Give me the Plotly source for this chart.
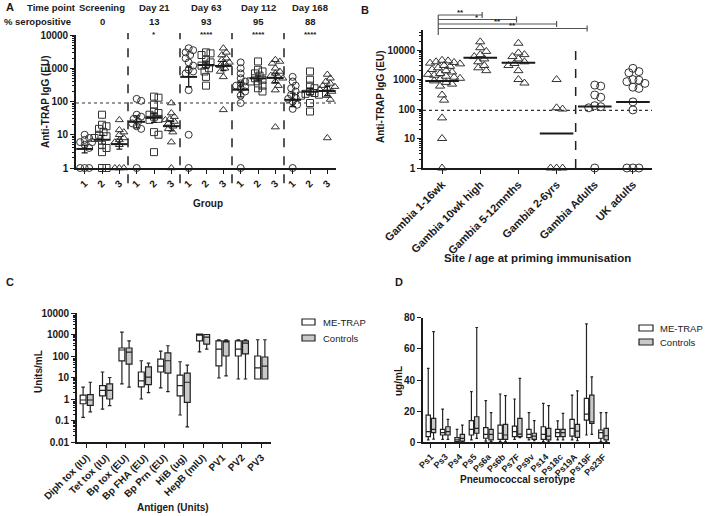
import numpy as np
import plotly.graph_objects as go

W, H = 708, 516

# ---------------- Panel A data ----------------
timepoints = ["Screening", "Day 21", "Day 63", "Day 112", "Day 168"]
pct_seropositive = ["0", "13", "93", "95", "88"]
sig_a = ["", "*", "****", "****", "****"]
groups_a = ["1", "2", "3"]
a_group1 = [
    [10, 8, 7, 6, 6, 5, 5, 4, 1, 1, 1],
    [120, 105, 40, 35, 30, 25, 22, 18, 15, 1],
    [4000, 3500, 3000, 2500, 2000, 1500, 1200, 900, 800, 700, 220, 10, 1],
    [1500, 1000, 700, 500, 400, 350, 300, 280, 250, 200, 150, 90, 1],
    [550, 400, 300, 250, 200, 160, 130, 120, 100, 80, 60, 1],
]
a_group2 = [
    [40, 20, 18, 15, 12, 10, 9, 8, 5, 4, 3, 1, 1],
    [140, 130, 80, 50, 45, 40, 35, 30, 28, 12, 10, 3],
    [3000, 2800, 2500, 1800, 1500, 1300, 1200, 1000, 800, 550, 300],
    [1600, 900, 800, 700, 600, 500, 450, 400, 350, 300, 250, 200],
    [800, 450, 300, 250, 200, 180, 170, 160, 150, 90, 50],
]
a_group3 = [
    [28, 14, 12, 10, 8, 7, 6, 5, 1, 1, 1],
    [90, 45, 35, 30, 28, 25, 22, 18, 15, 12, 6, 1],
    [4000, 3000, 2500, 2000, 1800, 1500, 1400, 1200, 1000, 800, 550, 56],
    [1800, 1600, 1400, 1000, 800, 700, 600, 550, 500, 400, 300, 220, 17],
    [650, 500, 400, 350, 300, 280, 250, 230, 200, 150, 115, 8],
]
cutoff = 90

# ---------------- Panel B data ----------------
b_categories = ["Gambia 1-16wk", "Gambia 10wk high", "Gambia 5-12mnths",
                "Gambia 2-6yrs", "Gambia Adults", "UK adults"]
b_values = [
    [4500, 4300, 4000, 3800, 3600, 3400, 3000, 2800, 2500, 2200, 2000, 1800, 1600, 1500,
     1400, 1300, 1200, 1100, 1000, 900, 800, 700, 600, 300, 200, 50, 10, 1],
    [19000, 12000, 9000, 7000, 6000, 5000, 4000, 3000, 2500, 2000],
    [17000, 8000, 7000, 6000, 5000, 4000, 3500, 3000, 2000, 1000, 760],
    [1000, 110, 100, 1, 1, 1],
    [650, 600, 300, 250, 130, 120, 110, 1],
    [2400, 1860, 1700, 1000, 955, 850, 740, 550, 500, 175, 93, 1, 1, 1],
]
b_symbols = ["triangle-up-open"] * 4 + ["circle-open"] * 2
b_comparisons = ["**", "*", "**", "**"]
b_bracket_ends = [1.05, 1.95, 3.0, 3.8]

# ---------------- Panel C data ----------------
c_antigens = ["Diph tox (IU)", "Tet tox (IU)", "Bp tox (EU)", "Bp FHA (EU)", "Bp Prn (EU)",
              "HiB (ug)", "HepB (mIU)", "PV1", "PV2", "PV3"]
c_me_low = [0.14, 0.34, 5, 1.0, 3.3, 0.18, 155, 9.5, 8.5, 8.5]
c_me_q1 = [0.6, 1.4, 59, 3.7, 18, 1.4, 510, 35, 100, 8.5]
c_me_med = [0.9, 2.5, 190, 7, 34, 4.2, 950, 210, 210, 28]
c_me_q3 = [1.5, 4.2, 235, 18, 72, 13, 1050, 510, 510, 100]
c_me_high = [3.6, 18, 1300, 60, 170, 54, 1050, 570, 570, 570]
c_ct_low = [0.25, 0.49, 3.6, 2.0, 2.2, 0.05, 210, 12, 8.5, 8.5]
c_ct_q1 = [0.5, 1.0, 42, 4.7, 16, 0.7, 360, 100, 125, 8.5]
c_ct_med = [0.9, 2.5, 150, 10.5, 60, 6, 760, 460, 400, 34]
c_ct_q3 = [1.6, 5, 235, 31, 140, 16, 1000, 510, 510, 90]
c_ct_high = [6, 10, 510, 47, 300, 38, 1000, 570, 570, 570]

# ---------------- Panel D data ----------------
d_serotypes = ["Ps1", "Ps3", "Ps4", "Ps5", "Ps6a", "Ps6b", "Ps7F", "Ps9v", "Ps14",
               "Ps18c", "Ps19A", "Ps19F", "Ps23F"]
d_me_low = [1.5, 1.9, 0.2, 1.5, 0.8, 0.5, 1.9, 1.5, 0.5, 1.5, 1.5, 4.7, 0.5]
d_me_q1 = [3.6, 4.7, 0.5, 4.7, 2.6, 1.9, 3.6, 3.0, 1.9, 3.6, 4.0, 14.3, 2.6]
d_me_med = [6.8, 6.2, 1.5, 8.3, 5.1, 5.8, 6.8, 5.1, 5.1, 6.2, 9.0, 18.1, 6.2]
d_me_q3 = [17.5, 8.3, 3.0, 13.9, 9.4, 11, 10.4, 8.3, 10, 8.3, 14.7, 28.2, 7.9]
d_me_high = [47.4, 21.3, 8.3, 32.5, 26.7, 31, 27.8, 19, 25, 13.7, 30.3, 76, 19]
d_ct_low = [2, 1.9, 0.3, 2.5, 0.5, 0.5, 3, 1, 0.3, 1.5, 1, 5.1, 0.3]
d_ct_q1 = [6.2, 4.7, 0.8, 5.8, 1.5, 1.9, 3.6, 1.9, 1.5, 3.6, 3.2, 12.2, 1.5]
d_ct_med = [8.3, 6.8, 2.5, 9, 5.1, 4.7, 5.3, 4, 4, 6.2, 7.2, 13.2, 4.2]
d_ct_q3 = [15.4, 10, 5.1, 16.4, 8.3, 11.5, 15.4, 5.8, 9, 8.3, 11.5, 30.3, 9]
d_ct_high = [71, 14.7, 11, 73.7, 19, 30, 41, 13.9, 23.5, 18.6, 33, 42, 19]

# ---------------- helpers ----------------
def px(x):
    return x / W

def py(y):
    return 1 - y / H

def swarm(vals, px_per_y, px_per_x, mind, step):
    v = np.log10(np.asarray(vals, float)) * px_per_y
    offs = np.zeros(len(v))
    placed = []
    cands = [0.0]
    for j in range(1, 40):
        cands += [j * step, -j * step]
    for i in np.argsort(-v, kind="stable"):
        for c in cands:
            if all((c - a) ** 2 + (v[i] - b) ** 2 >= mind ** 2 for a, b in placed):
                break
        placed.append((c, v[i]))
        offs[i] = c
    return offs / px_per_x

def geo_stats(vals):
    lv = np.log10(np.asarray(vals, float))
    m = lv.mean()
    se = lv.std(ddof=1) / np.sqrt(len(lv))
    return 10 ** m, 10 ** (m + se) - 10 ** m, 10 ** m - 10 ** (m - se)

INK = "#1a1a1a"
FONT = "Liberation Sans, Arial, sans-serif"
HATCH = "#c9c9c9"

# panel geometry (pixels)
A_x0, A_x1, A_ytop, A_ybot = 76, 336, 35, 168
B_x0, B_x1, B_ytop, B_ybot = 423, 652, 30, 168
C_x0, C_x1, C_ytop, C_ybot = 77, 271, 313, 442
D_x0, D_x1, D_ytop, D_ybot = 423, 610, 317.7, 442.3

A_range_x = [0.5, 15.5]
A_range_y = [0, 4]
B_range_x = [-0.5, 5.5]
B_range_y = [0, 4.68]

fig = go.Figure()

# ---------------- Panel A traces ----------------
a_ppx = (A_x1 - A_x0) / (A_range_x[1] - A_range_x[0])
a_ppy = (A_ybot - A_ytop) / (A_range_y[1] - A_range_y[0])
a_symbols = ["circle-open", "square-open", "triangle-up-open"]
a_all = [a_group1, a_group2, a_group3]
mean_x, mean_y, err_up, err_dn = [], [], [], []
for s in range(len(timepoints)):
    for g in range(3):
        vals = a_all[g][s]
        center = s * 3 + g + 1
        xs = center + swarm(vals, a_ppy, a_ppx, 4.5, 1.5)
        fig.add_trace(go.Scatter(
            x=xs, y=vals, mode="markers", xaxis="x", yaxis="y", cliponaxis=False,
            marker=dict(symbol=a_symbols[g], size=7, color="#333", line=dict(width=1, color="#333")),
            showlegend=False, hoverinfo="skip"))
        gm, up, dn = geo_stats(vals)
        mean_x.append(center); mean_y.append(gm); err_up.append(up); err_dn.append(dn)
fig.add_trace(go.Scatter(
    x=mean_x, y=mean_y, mode="markers", xaxis="x", yaxis="y", cliponaxis=False,
    marker=dict(symbol="line-ew", size=12, color=INK, line=dict(width=2, color=INK)),
    error_y=dict(type="data", array=err_up, arrayminus=err_dn, width=3, thickness=1.3, color=INK),
    showlegend=False, hoverinfo="skip"))
fig.add_trace(go.Scatter(x=A_range_x, y=[cutoff, cutoff], mode="lines", xaxis="x", yaxis="y",
                         line=dict(color="#333", width=1.2, dash="dot"), showlegend=False, hoverinfo="skip"))

# ---------------- Panel B traces ----------------
b_ppx = (B_x1 - B_x0) / (B_range_x[1] - B_range_x[0])
b_ppy = (B_ybot - B_ytop) / (B_range_y[1] - B_range_y[0])
bm_x, bm_y = [], []
for i, vals in enumerate(b_values):
    xs = i + swarm(vals, b_ppy, b_ppx, 5.5, 2.0)
    fig.add_trace(go.Scatter(
        x=xs, y=vals, mode="markers", xaxis="x2", yaxis="y2", cliponaxis=False,
        marker=dict(symbol=b_symbols[i], size=8, color="#333", line=dict(width=1, color="#333")),
        showlegend=False, hoverinfo="skip"))
    gm, _, _ = geo_stats(vals)
    bm_x.append(i); bm_y.append(gm)
fig.add_trace(go.Scatter(
    x=bm_x, y=bm_y, mode="markers", xaxis="x2", yaxis="y2", cliponaxis=False,
    marker=dict(symbol="line-ew", size=24, color=INK, line=dict(width=2, color=INK)),
    showlegend=False, hoverinfo="skip"))
fig.add_trace(go.Scatter(x=B_range_x, y=[cutoff, cutoff], mode="lines", xaxis="x2", yaxis="y2",
                         line=dict(color="#333", width=1.2, dash="dot"), showlegend=False, hoverinfo="skip"))
fig.add_trace(go.Scatter(x=[3.5, 3.5], y=[1, 12000], mode="lines", xaxis="x2", yaxis="y2",
                         line=dict(color="#222", width=1.5, dash="dash"), showlegend=False, hoverinfo="skip"))

# ---------------- Panel C / D boxes ----------------
box_line = dict(color="#222", width=1.2)
for xs_, q1, med, q3, lo, hi, name, og, fc, xa, ya in [
    (c_antigens, c_me_q1, c_me_med, c_me_q3, c_me_low, c_me_high, "ME-TRAP", "me", "white", "x3", "y3"),
    (c_antigens, c_ct_q1, c_ct_med, c_ct_q3, c_ct_low, c_ct_high, "Controls", "ct", HATCH, "x3", "y3"),
    (d_serotypes, d_me_q1, d_me_med, d_me_q3, d_me_low, d_me_high, "ME-TRAP", "me", "white", "x4", "y4"),
    (d_serotypes, d_ct_q1, d_ct_med, d_ct_q3, d_ct_low, d_ct_high, "Controls", "ct", HATCH, "x4", "y4"),
]:
    fig.add_trace(go.Box(x=xs_, q1=q1, median=med, q3=q3, lowerfence=lo, upperfence=hi,
                         name=name, offsetgroup=og, fillcolor=fc, line=box_line, whiskerwidth=0.6,
                         xaxis=xa, yaxis=ya, showlegend=False, hoverinfo="skip"))

# ---------------- axes ----------------
ax = dict(showline=True, linecolor=INK, linewidth=1.6, ticks="outside", ticklen=4, tickwidth=1.4,
          tickcolor=INK, showgrid=False, zeroline=False, automargin=False,
          tickfont=dict(size=10, color=INK))
minor_log = dict(ticks="outside", ticklen=2.5, tickwidth=1, tickcolor=INK, dtick="D1", showgrid=False)
log_ticks = dict(tickmode="array", tickvals=[1, 10, 100, 1000, 10000],
                 ticktext=["1", "10", "100", "1000", "10000"])

fig.update_layout(
    xaxis=dict(ax, domain=[px(A_x0), px(A_x1)], range=A_range_x, anchor="y",
               tickmode="array", tickvals=list(range(1, 16)), ticktext=groups_a * 5, tickangle=-45),
    yaxis=dict(ax, domain=[py(A_ybot), py(A_ytop)], type="log", range=A_range_y, anchor="x",
               minor=minor_log, **log_ticks),
    xaxis2=dict(ax, domain=[px(B_x0), px(B_x1)], range=B_range_x, anchor="y2",
                tickmode="array", tickvals=list(range(6)), ticktext=b_categories, tickangle=-45,
                tickfont=dict(size=11, color=INK)),
    yaxis2=dict(ax, domain=[py(B_ybot), py(B_ytop)], type="log", range=B_range_y, anchor="x2",
                minor=minor_log, **log_ticks),
    xaxis3=dict(ax, domain=[px(C_x0), px(C_x1)], type="category", range=[-0.5, 9.5], anchor="y3",
                tickangle=-45, categoryorder="array", categoryarray=c_antigens),
    yaxis3=dict(ax, domain=[py(C_ybot), py(C_ytop)], type="log", range=[-2, 4], anchor="x3",
                tickmode="array", tickvals=[0.01, 0.1, 1, 10, 100, 1000, 10000],
                ticktext=["0.01", "0.1", "1", "10", "100", "1000", "10000"], minor=minor_log),
    xaxis4=dict(ax, domain=[px(D_x0), px(D_x1)], type="category", range=[-0.55, 12.45], anchor="y4",
                tickangle=-45, categoryorder="array", categoryarray=d_serotypes,
                tickfont=dict(size=9, color=INK)),
    yaxis4=dict(ax, domain=[py(D_ybot), py(D_ytop)], range=[0, 80], anchor="x4",
                tickmode="array", tickvals=[0, 20, 40, 60, 80]),
    boxmode="group", boxgap=0.26, boxgroupgap=0.18,
    width=W, height=H, margin=dict(l=0, r=0, t=0, b=0, autoexpand=False),
    paper_bgcolor="white", plot_bgcolor="white",
    font=dict(family=FONT, size=10, color=INK, weight="bold"),
    showlegend=False, hovermode=False,
)

shapes = []
ann = []

def txt(x, y, s, size=10, xref="paper", yref="paper", xanchor="center", yanchor="middle",
        angle=0, weight="bold"):
    ann.append(dict(x=x, y=y, xref=xref, yref=yref, text=s, showarrow=False, xanchor=xanchor,
                    yanchor=yanchor, textangle=angle,
                    font=dict(family=FONT, size=size, color=INK, weight=weight)))

# ---- Panel A extras ----
for s in range(1, len(timepoints)):
    shapes.append(dict(type="line", xref="x", yref="y domain", x0=s * 3 + 0.5, x1=s * 3 + 0.5,
                       y0=-0.115, y1=1.015, line=dict(color="#222", width=1.5, dash="dash")))
txt(px(4), py(7), "A", size=11, xanchor="left")
txt(px(51), py(7), "Time point", size=9.5)
txt(px(2), py(22), "% seropositive", size=9.5, xanchor="left")
for s, tp in enumerate(timepoints):
    txt(s * 3 + 2, py(7), tp, size=9.5, xref="x")
    txt(s * 3 + 2, py(22), pct_seropositive[s], size=9.5, xref="x")
    if sig_a[s]:
        txt(s * 3 + 2, py(34), sig_a[s], size=8, xref="x")
txt(px(45), py(102), "Anti-TRAP IgG (EU)", size=10, angle=-90)
txt(px(208), py(203), "Group", size=10)

# ---- Panel B extras ----
txt(px(359), py(10), "B", size=11, xanchor="left")
txt(px(380), py(97), "Anti-TRAP IgG (EU)", size=10, angle=-90)
txt(px(537), py(258), "Site / age at priming immunisation", size=11.5)
b_h = B_ybot - B_ytop
bracket_px = [15, 19.5, 24, 28.5]
left_x = -0.1
shapes.append(dict(type="line", xref="x2", yref="y2 domain", x0=left_x, x1=left_x,
                   y0=(B_ybot - bracket_px[0]) / b_h, y1=(B_ybot - 35) / b_h,
                   line=dict(color="#555", width=1.2)))
for lab, xe, ypx in zip(b_comparisons, b_bracket_ends, bracket_px):
    yd = (B_ybot - ypx) / b_h
    shapes.append(dict(type="line", xref="x2", yref="y2 domain", x0=left_x, x1=xe, y0=yd, y1=yd,
                       line=dict(color="#555", width=1.2)))
    shapes.append(dict(type="line", xref="x2", yref="y2 domain", x0=xe, x1=xe,
                       y0=yd - 3 / b_h, y1=yd + 3 / b_h, line=dict(color="#555", width=1.2)))
    ann.append(dict(x=(left_x + xe) / 2, y=yd, xref="x2", yref="y2 domain", text=lab,
                    showarrow=False, yanchor="bottom", yshift=-4,
                    font=dict(family=FONT, size=8, color=INK, weight="bold")))

# ---- Panel C extras ----
txt(px(4), py(282), "C", size=11, xanchor="left")
txt(px(38), py(372), "Units/mL", size=10, angle=-90)
txt(px(173), py(507), "Antigen (Units)", size=10)
for yy, lab, fc in [(322, "ME-TRAP", "white"), (338, "Controls", HATCH)]:
    shapes.append(dict(type="rect", xref="paper", yref="paper", x0=px(302), x1=px(315),
                       y0=py(yy + 3), y1=py(yy - 3), fillcolor=fc, line=dict(color="#222", width=1.2)))
    txt(px(321), py(yy), lab, size=9.5, xanchor="left", weight="normal")

# ---- Panel D extras ----
txt(px(393), py(282), "D", size=11, xanchor="left")
txt(px(398), py(381), "ug/mL", size=10, angle=-90)
txt(px(517), py(479), "Pneumococcal serotype", size=10)
for yy, lab, fc in [(328, "ME-TRAP", "white"), (342, "Controls", HATCH)]:
    shapes.append(dict(type="rect", xref="paper", yref="paper", x0=px(639), x1=px(653),
                       y0=py(yy + 3), y1=py(yy - 3), fillcolor=fc, line=dict(color="#222", width=1.2)))
    txt(px(658), py(yy), lab, size=9.5, xanchor="left", weight="normal")

fig.update_layout(shapes=shapes, annotations=ann)
fig.write_html("out.html", config={"displayModeBar": False},
               post_script="document.body.style.margin='0';document.body.style.overflow='hidden';")
